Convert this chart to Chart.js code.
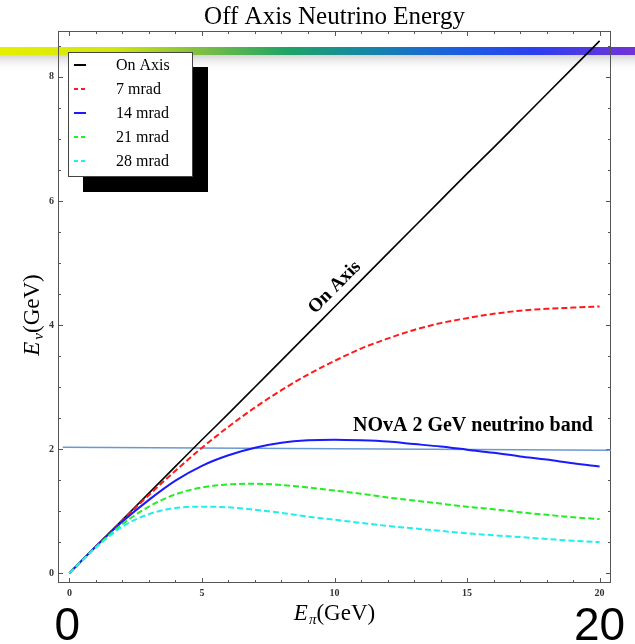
<!DOCTYPE html>
<html>
<head>
<meta charset="utf-8">
<script src="https://cdn.jsdelivr.net/npm/chart.js@4.4.1/dist/chart.umd.min.js"></script>
<style>
  html, body { margin: 0; padding: 0; background: #fff; }
  #wrap { width: 635px; height: 644px; position: relative; }
</style>
</head>
<body>
<div id="wrap"><canvas id="myChart"></canvas></div>
<script>
// pion energy (GeV) and neutrino energy (GeV)
const energy = [0, 1, 2, 3, 4, 5, 6, 7, 8, 9, 10, 11, 12, 13, 14, 15, 16, 17, 18, 19, 20];
const onAxis = [0, 0.43, 0.86, 1.29, 1.72, 2.15, 2.57, 3.00, 3.43, 3.86, 4.29, 4.72, 5.15, 5.58, 6.01, 6.44, 6.86, 7.29, 7.72, 8.15, 8.58];
const mrad7  = [0, 0.43, 0.85, 1.26, 1.65, 2.02, 2.36, 2.67, 2.95, 3.20, 3.42, 3.62, 3.78, 3.92, 4.03, 4.11, 4.18, 4.23, 4.26, 4.28, 4.30];
const mrad14 = [0, 0.43, 0.83, 1.18, 1.49, 1.73, 1.90, 2.02, 2.10, 2.14, 2.15, 2.14, 2.12, 2.08, 2.04, 1.99, 1.94, 1.88, 1.83, 1.77, 1.72];
const mrad21 = [0, 0.42, 0.79, 1.07, 1.27, 1.38, 1.43, 1.44, 1.42, 1.38, 1.33, 1.28, 1.22, 1.17, 1.12, 1.07, 1.03, 0.98, 0.94, 0.90, 0.87];
const mrad28 = [0, 0.41, 0.75, 0.95, 1.05, 1.07, 1.06, 1.02, 0.97, 0.91, 0.86, 0.81, 0.76, 0.72, 0.68, 0.64, 0.61, 0.58, 0.55, 0.52, 0.50];
const seriesNames = ['On Axis', '7 mrad', '14 mrad', '21 mrad', '28 mrad'];

// NOvA 2 GeV band line
const bandX = [-0.25, 20.43];
const bandY = [2.03, 1.98];

const xTicks = [0, 5, 10, 15, 20];
const yTicks = [0, 2, 4, 6, 8];
const xRange = [-0.43, 20.43];
const yRange = [-0.16, 8.74];

function pts(xs, ys) {
  return xs.map((x, i) => ({x: x, y: ys[i]}));
}

const serif = '"Liberation Serif", "Times New Roman", serif';

function curve(label, ys, color, dash, order) {
  return {
    label: label,
    data: pts(energy, ys),
    borderColor: color,
    borderWidth: label == 'On Axis' ? 1.6 : 2,
    borderDash: dash,
    pointRadius: 0,
    cubicInterpolationMode: 'monotone',
    order: order
  };
}

// slide background: rainbow bar + grey shading
const slidePlugin = {
  id: 'slide',
  beforeDraw(chart) {
    const c = chart.ctx, w = chart.width;
    c.save();
    c.fillStyle = '#fff';
    c.fillRect(0, 0, w, chart.height);
    let sh = c.createLinearGradient(0, 54, 0, 72);
    sh.addColorStop(0, '#cfcfcf');
    sh.addColorStop(1, 'rgba(255,255,255,0)');
    c.fillStyle = sh;
    c.fillRect(0, 54, w, 18);
    let g = c.createLinearGradient(0, 0, w, 0);
    g.addColorStop(0, '#e6ef00');
    g.addColorStop(0.18, '#d2e60a');
    g.addColorStop(0.32, '#7cbd45');
    g.addColorStop(0.45, '#1fa464');
    g.addColorStop(0.58, '#1586a8');
    g.addColorStop(0.72, '#1b5ee0');
    g.addColorStop(0.84, '#2b3ff0');
    g.addColorStop(1, '#7233d6');
    c.fillStyle = g;
    c.fillRect(0, 47, w, 8);
    c.restore();
  }
};

// Mathematica style frame with inward ticks
const framePlugin = {
  id: 'frame',
  beforeDatasetsDraw(chart) {
    const c = chart.ctx, a = chart.chartArea;
    const xs = chart.scales.x, ys = chart.scales.y;
    c.save();
    c.strokeStyle = '#555';
    c.lineWidth = 1;
    c.strokeRect(a.left + 0.5, a.top + 0.5, a.right - a.left - 1, a.bottom - a.top - 1);
    c.beginPath();
    for (let v = 0; v <= 20; v += 1) {
      const p = Math.round(xs.getPixelForValue(v)) + 0.5;
      const len = v % 5 == 0 ? 5 : 3;
      c.moveTo(p, a.bottom); c.lineTo(p, a.bottom - len);
      c.moveTo(p, a.top); c.lineTo(p, a.top + len);
    }
    for (let v = 0; v <= 8.5; v += 0.5) {
      const p = Math.round(ys.getPixelForValue(v)) + 0.5;
      const len = v % 2 == 0 ? 5 : 3;
      c.moveTo(a.left, p); c.lineTo(a.left + len, p);
      c.moveTo(a.right, p); c.lineTo(a.right - len, p);
    }
    c.stroke();
    c.restore();
  }
};

function drawParts(c, parts, cx, y) {
  let w = 0;
  parts.forEach(p => { c.font = p.f; w += c.measureText(p.t).width + (p.gap || 0); });
  let x = cx - w / 2;
  parts.forEach(p => {
    c.font = p.f;
    x += p.gap || 0;
    c.fillText(p.t, x, y + (p.dy || 0));
    x += c.measureText(p.t).width;
  });
}

const notesPlugin = {
  id: 'notes',
  afterDraw(chart) {
    const c = chart.ctx, a = chart.chartArea;
    const xs = chart.scales.x, ys = chart.scales.y;
    c.save();
    c.fillStyle = '#000';
    c.textBaseline = 'alphabetic';

    // title
    c.textAlign = 'center';
    c.font = '25px ' + serif;
    c.fillText('Off Axis Neutrino Energy', (a.left + a.right) / 2, 24);

    // axis labels
    c.textAlign = 'left';
    drawParts(c, [
      {t: 'E', f: 'italic 23px ' + serif},
      {t: 'π', f: 'italic 15px ' + serif, dy: 4, gap: 1},
      {t: '(GeV)', f: '23px ' + serif}
    ], (a.left + a.right) / 2, 620);
    c.save();
    c.translate(30, (a.top + a.bottom) / 2 + 8);
    c.rotate(-Math.PI / 2);
    drawParts(c, [
      {t: 'E', f: 'italic 23px ' + serif},
      {t: 'ν', f: 'italic 15px ' + serif, dy: 4, gap: 2},
      {t: '(GeV)', f: '23px ' + serif}
    ], 0, 9);
    c.restore();

    // "On Axis" along the line
    const p0 = [xs.getPixelForValue(energy[0]), ys.getPixelForValue(onAxis[0])];
    const p1 = [xs.getPixelForValue(energy[20]), ys.getPixelForValue(onAxis[20])];
    const ang = Math.atan2(p1[1] - p0[1], p1[0] - p0[0]);
    c.save();
    c.translate(xs.getPixelForValue(9.98), ys.getPixelForValue(4.62));
    c.rotate(ang);
    c.textAlign = 'center';
    c.font = 'bold 19px ' + serif;
    c.fillText('On Axis', 0, 6);
    c.restore();

    // NOvA band label
    c.textAlign = 'right';
    c.font = 'bold 20px ' + serif;
    c.fillText('NOvA 2 GeV neutrino band', xs.getPixelForValue(19.75), ys.getPixelForValue(2.29));

    // big slide numbers
    c.textAlign = 'center';
    c.font = '46px "Liberation Sans", Arial, sans-serif';
    c.fillText('0', xs.getPixelForValue(0) - 2, 640);
    c.fillText('20', xs.getPixelForValue(20), 640);

    // legend with drop shadow
    const lx = 68, ly = 52, lw = 124, lh = 124;
    c.fillStyle = '#000';
    c.fillRect(lx + 15, ly + 15, lw + 1, lh + 1);
    c.fillStyle = '#fff';
    c.fillRect(lx, ly, lw, lh);
    c.strokeStyle = '#444';
    c.lineWidth = 1;
    c.strokeRect(lx + 0.5, ly + 0.5, lw, lh);
    c.textAlign = 'left';
    c.textBaseline = 'middle';
    c.font = '16px ' + serif;
    chart.data.datasets.filter(d => seriesNames.includes(d.label)).forEach((d, i) => {
      const yy = ly + 13 + i * 24;
      c.strokeStyle = d.borderColor;
      c.lineWidth = 2;
      c.setLineDash(d.borderDash.length ? [4, 3] : []);
      c.beginPath();
      c.moveTo(lx + 6, yy); c.lineTo(lx + 18, yy);
      c.stroke();
      c.setLineDash([]);
      c.fillStyle = '#000';
      c.fillText(d.label, lx + 48, yy + 1);
    });
    c.restore();
  }
};

const ctx = document.getElementById('myChart');
const myChart = new Chart(ctx, {
  type: 'line',
  data: {
    datasets: [
      curve(seriesNames[0], onAxis, '#000000', [], 5),
      curve(seriesNames[1], mrad7, '#ff1a1a', [6, 3], 4),
      curve(seriesNames[2], mrad14, '#1a1aff', [], 3),
      curve(seriesNames[3], mrad21, '#22ee22', [6, 3], 2),
      curve(seriesNames[4], mrad28, '#22eeee', [6, 3], 1),
      {
        label: 'band',
        data: pts(bandX, bandY),
        borderColor: '#6a98d4',
        borderWidth: 1.5,
        pointRadius: 0,
        order: 6
      }
    ]
  },
  options: {
    responsive: true,
    maintainAspectRatio: false,
    animation: false,
    layout: { padding: { left: 0, top: 31, right: 24, bottom: 41 } },
    plugins: { legend: { display: false }, tooltip: { enabled: false } },
    scales: {
      x: {
        type: 'linear',
        min: xRange[0], max: xRange[1],
        grid: { display: false, drawTicks: false },
        border: { display: false },
        afterBuildTicks: axis => { axis.ticks = xTicks.map(v => ({value: v})); },
        afterFit: axis => { axis.height = 20; },
        ticks: { padding: 4, color: '#333', maxRotation: 0, font: { family: serif, size: 10, weight: 'bold' } }
      },
      y: {
        type: 'linear',
        min: yRange[0], max: yRange[1],
        grid: { display: false, drawTicks: false },
        border: { display: false },
        afterBuildTicks: axis => { axis.ticks = yTicks.map(v => ({value: v})); },
        afterFit: axis => { axis.width = 58; },
        ticks: { padding: 4, color: '#333', font: { family: serif, size: 10, weight: 'bold' } }
      }
    }
  },
  plugins: [slidePlugin, framePlugin, notesPlugin]
});
</script>
</body>
</html>
